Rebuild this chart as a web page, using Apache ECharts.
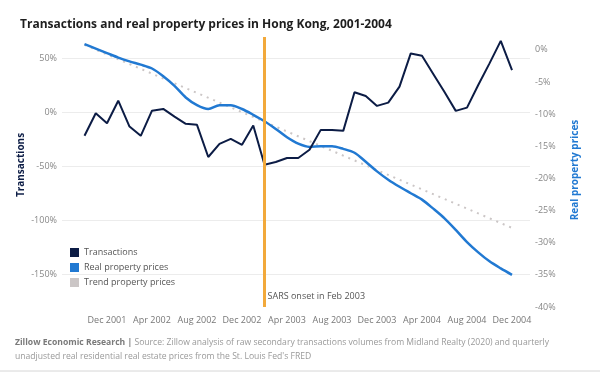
<!DOCTYPE html>
<html>
<head>
<meta charset="utf-8">
<script src="https://cdn.jsdelivr.net/npm/echarts@6/dist/echarts.min.js"></script>
<style>
  html, body { margin: 0; padding: 0; background: #fff; }
  #main { width: 600px; height: 373px; }
</style>
</head>
<body>
<div id="main"></div>
<script>
// monthly points, Oct 2001 - Dec 2004
var months = ['Oct 2001', 'Nov 2001', 'Dec 2001', 'Jan 2002', 'Feb 2002', 'Mar 2002', 'Apr 2002', 'May 2002', 'Jun 2002', 'Jul 2002', 'Aug 2002', 'Sep 2002',
  'Oct 2002', 'Nov 2002', 'Dec 2002', 'Jan 2003', 'Feb 2003', 'Mar 2003', 'Apr 2003', 'May 2003', 'Jun 2003', 'Jul 2003', 'Aug 2003', 'Sep 2003',
  'Oct 2003', 'Nov 2003', 'Dec 2003', 'Jan 2004', 'Feb 2004', 'Mar 2004', 'Apr 2004', 'May 2004', 'Jun 2004', 'Jul 2004', 'Aug 2004', 'Sep 2004',
  'Oct 2004', 'Nov 2004', 'Dec 2004']

// transactions, % change (left axis)
var transactions = [-21.5, -0.6, -9.8, 11, -12.9, -21.5, 1.8, 3.4, -3.7, -10.4, -11.3, -41.1, -28.9, -24.3, -29.8, -12, -48.2, -45.8, -42, -42,
  -34.4, -16, -16, -16.9, 18.8, 15.4, 6.2, 9.2, 24, 54.8, 52.6, 35.8, 19, 1.6, 4.6, 25.6, 45.6, 66.4, 39.4]

// real property prices, % (right axis)
var prices = [0.9, 0.2, -0.5, -1.2, -1.8, -2.3, -2.9, -4.1, -5.6, -7.4, -8.6, -9.2, -8.6, -8.6, -9.2, -10.1, -11.1, -12.3, -13.6, -14.6,
  -15.1, -15.0, -15.0, -15.4, -16.0, -17.4, -18.9, -20.2, -21.3, -22.3, -23.3, -24.7, -26.2, -28.0, -29.9, -31.5, -32.9, -34.0, -35.0]

// trend line end points
var trend = [['Oct 2001', 0.8], ['Dec 2004', -27.7]]

var sarsMonth = 'Feb 2003'

var leftTicks = [-150, -100, -50, 0, 50]
var rightTicks = [0, -5, -10, -15, -20, -25, -30, -35, -40]

var navy = '#0c1c45'
var blue = '#2179d2'
var grey = '#cbc6c6'
var font = 'Open Sans'

var myChart = echarts.init(document.getElementById('main'))

var option = {
  animation: false,
  title: [
    {
      text: 'Transactions and real property prices in Hong Kong, 2001-2004',
      left: 15,
      top: 14,
      textStyle: { fontFamily: font, fontSize: 12, fontWeight: 'bold', color: '#1e1e1e' }
    },
    {
      text: '{b|Zillow Economic Research |} Source: Zillow analysis of raw secondary transactions volumes from Midland Realty (2020) and quarterly\nunadjusted real residential real estate prices from the St. Louis Fed\'s FRED',
      left: 10,
      top: 331,
      textStyle: {
        fontFamily: font, fontSize: 8.6, color: '#999', fontWeight: 'normal', lineHeight: 14,
        rich: { b: { fontFamily: font, fontSize: 8.6, fontWeight: 'bold', color: '#7a7a7a' } }
      }
    }
  ],
  legend: {
    data: ['Transactions', 'Real property prices', 'Trend property prices'],
    orient: 'vertical',
    left: 65,
    top: 243,
    icon: 'rect',
    itemWidth: 9,
    itemHeight: 9,
    itemGap: 6,
    textStyle: { fontFamily: font, fontSize: 9, color: '#555' }
  },
  grid: { left: 62, right: 70, top: 37, bottom: 66 },
  xAxis: {
    type: 'value',
    min: -2,
    max: 39.6,
    interval: 4,
    axisLine: { show: false },
    axisTick: { show: false },
    splitLine: { show: false },
    axisLabel: {
      showMinLabel: false,
      showMaxLabel: false,
      margin: 9,
      fontFamily: font,
      fontSize: 9,
      color: '#777',
      formatter: function (v) { return months[v] || '' }
    }
  },
  yAxis: [
    {
      type: 'value',
      min: -180,
      max: 70,
      splitNumber: 5,
      name: 'Transactions',
      nameLocation: 'middle',
      nameGap: 36,
      nameMoveOverlap: false,
      nameTextStyle: { fontFamily: font, fontSize: 10, fontWeight: 'bold', color: navy, padding: [0, 0, 0, 14] },
      axisLine: { show: false },
      axisTick: { show: false },
      splitLine: { show: true, showMinLine: false, showMaxLine: false, lineStyle: { color: '#ececec', width: 1 } },
      axisLabel: {
        showMinLabel: false,
        showMaxLabel: false,
        margin: 5,
        fontFamily: font,
        fontSize: 9,
        color: '#888',
        formatter: function (v) { return leftTicks.indexOf(v) > -1 ? v + '%' : '' }
      }
    },
    {
      type: 'value',
      min: -40,
      max: 2,
      splitNumber: 8,
      name: 'Real property prices',
      nameLocation: 'middle',
      nameGap: 40,
      nameTextStyle: { fontFamily: font, fontSize: 10, fontWeight: 'bold', color: blue, padding: [0, 0, 0, 4] },
      axisLine: { show: false },
      axisTick: { show: false },
      splitLine: { show: false },
      axisLabel: {
        showMinLabel: true,
        showMaxLabel: false,
        margin: 5,
        fontFamily: font,
        fontSize: 9,
        color: '#888',
        formatter: function (v) { return rightTicks.indexOf(v) > -1 ? v + '%' : '' }
      }
    }
  ],
  series: [
    {
      name: 'Trend property prices',
      type: 'line',
      yAxisIndex: 1,
      symbol: 'none',
      data: trend.map(function (d) { return [months.indexOf(d[0]), d[1]] }),
      itemStyle: { color: grey },
      lineStyle: { color: grey, width: 2, type: [2, 5] },
      z: 2
    },
    {
      name: 'Real property prices',
      type: 'line',
      yAxisIndex: 1,
      symbol: 'none',
      smooth: 0.3,
      data: prices.map(function (v, i) { return [i, v] }),
      itemStyle: { color: blue },
      lineStyle: { color: blue, width: 2.5 },
      z: 3
    },
    {
      name: 'Transactions',
      type: 'line',
      yAxisIndex: 0,
      symbol: 'none',
      data: transactions.map(function (v, i) { return [i, v] }),
      itemStyle: { color: navy },
      lineStyle: { color: navy, width: 2 },
      z: 4,
      markLine: {
        silent: true,
        symbol: 'none',
        z: 10,
        label: { show: false },
        lineStyle: { color: '#f2a93b', width: 3, type: 'solid' },
        data: [{ xAxis: months.indexOf(sarsMonth) }]
      }
    }
  ]
}
myChart.setOption(option)

// SARS note next to the orange line, placed through the axes
var p = myChart.convertToPixel({ xAxisIndex: 0, yAxisIndex: 1 }, [months.indexOf(sarsMonth), -40])
myChart.setOption({
  graphic: [
    {
      type: 'text',
      left: p[0] + 3,
      top: p[1] - 15,
      style: { text: 'SARS onset in Feb 2003', font: '9px "Open Sans"', fill: '#555' }
    },
    {
      type: 'line',
      shape: { x1: 0, y1: 371, x2: 600, y2: 371 },
      style: { stroke: '#d6d6d6', lineWidth: 1 }
    }
  ]
})
</script>
</body>
</html>
